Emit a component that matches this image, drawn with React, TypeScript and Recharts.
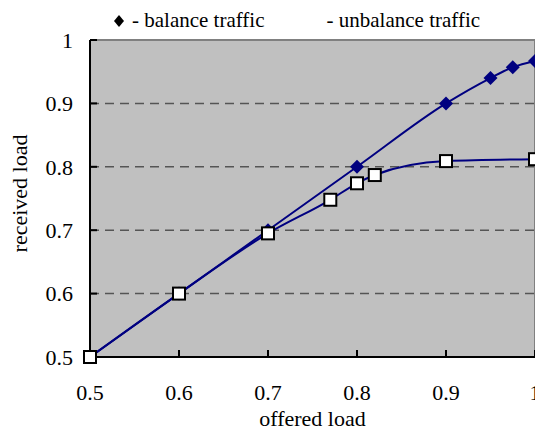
import { CartesianGrid, Line, LineChart, ReferenceLine, XAxis, YAxis } from "recharts";

const offered = [0.5, 0.6, 0.7, 0.8, 0.9, 0.95, 0.975, 1];
const balanced = [0.5, 0.6, 0.7, 0.8, 0.9, 0.94, 0.957, 0.967];

const offeredUnbal = [0.5, 0.6, 0.7, 0.77, 0.8, 0.82, 0.9, 1];
const unbalanced = [0.5, 0.6, 0.695, 0.748, 0.774, 0.787, 0.809, 0.812];

const ticks = [0.5, 0.6, 0.7, 0.8, 0.9, 1];
const gridLevels = [0.6, 0.7, 0.8, 0.9];

const balanceData = offered.map((x, i) => ({ x, y: balanced[i] }));
const unbalanceData = offeredUnbal.map((x, i) => ({ x, y: unbalanced[i] }));

const NAVY = "#000080";
const FONT = "'Liberation Serif', 'Times New Roman', serif";

const Diamond = (props: any) => {
  const { cx, cy } = props;
  if (cx == null || cy == null) return null;
  const r = 7;
  return (
    <polygon
      points={`${cx},${cy - r} ${cx + r},${cy} ${cx},${cy + r} ${cx - r},${cy}`}
      fill={NAVY}
    />
  );
};

const Square = (props: any) => {
  const { cx, cy } = props;
  if (cx == null || cy == null) return null;
  return (
    <rect
      x={cx - 6}
      y={cy - 6}
      width={12}
      height={12}
      fill="#ffffff"
      stroke="#000000"
      strokeWidth={2}
    />
  );
};

const tickStyle = { fill: "#000", fontSize: 22, fontFamily: FONT };

export default function App() {
  return (
    <div
      style={{
        position: "absolute",
        left: 0,
        top: 0,
        width: 535,
        height: 430,
        overflow: "hidden",
        background: "#fff",
        fontFamily: FONT,
      }}
    >
      <div
        style={{
          position: "absolute",
          top: 8,
          left: 113,
          fontSize: 21,
          display: "flex",
          alignItems: "center",
          whiteSpace: "nowrap",
        }}
      >
        <svg width={12} height={14} style={{ marginRight: 7 }}>
          <polygon points="6,1 11,7 6,13 1,7" fill="#000" />
        </svg>
        <span>- balance traffic</span>
        <span style={{ marginLeft: 62 }}>- unbalance traffic</span>
      </div>
      <LineChart
        width={560}
        height={430}
        margin={{ top: 40, right: 25, bottom: 0, left: 0 }}
        style={{ position: "absolute", left: 0, top: 0 }}
      >
        <CartesianGrid horizontal={false} vertical={false} fill="#c0c0c0" />
        {gridLevels.map((v) => (
          <ReferenceLine
            key={v}
            y={v}
            stroke="#555"
            strokeWidth={1.5}
            strokeDasharray="9 6"
          />
        ))}
        <ReferenceLine y={1} stroke="#808080" strokeWidth={2} />
        <ReferenceLine x={1} stroke="#808080" strokeWidth={2} />
        <XAxis
          dataKey="x"
          type="number"
          domain={[0.5, 1]}
          ticks={ticks}
          allowDuplicatedCategory={false}
          height={73}
          stroke="#000"
          strokeWidth={2}
          tickSize={-7}
          tickMargin={34}
          tick={tickStyle}
          label={{
            value: "offered load",
            position: "insideBottom",
            offset: 4,
            fill: "#000",
            fontSize: 22,
            fontFamily: FONT,
          }}
        />
        <YAxis
          dataKey="y"
          type="number"
          domain={[0.5, 1]}
          ticks={ticks}
          width={90}
          stroke="#000"
          strokeWidth={2}
          tickSize={-7}
          tickMargin={24}
          tick={tickStyle}
          label={{
            content: (p: any) => {
              const vb = p.viewBox || {};
              const lx = (vb.x ?? 0) + 19;
              const ly = (vb.y ?? 40) + (vb.height ?? 317) / 2 - 5;
              return (
                <text
                  x={lx}
                  y={ly}
                  transform={`rotate(-90 ${lx} ${ly})`}
                  textAnchor="middle"
                  dominantBaseline="central"
                  fill="#000"
                  fontSize={22}
                  fontFamily={FONT}
                >
                  received load
                </text>
              );
            },
          }}
        />
        <Line
          data={balanceData}
          dataKey="y"
          type="monotone"
          stroke={NAVY}
          strokeWidth={2}
          dot={<Diamond />}
          activeDot={false}
          isAnimationActive={false}
        />
        <Line
          data={unbalanceData}
          dataKey="y"
          type="monotone"
          stroke={NAVY}
          strokeWidth={2}
          dot={<Square />}
          activeDot={false}
          isAnimationActive={false}
        />
      </LineChart>
    </div>
  );
}
